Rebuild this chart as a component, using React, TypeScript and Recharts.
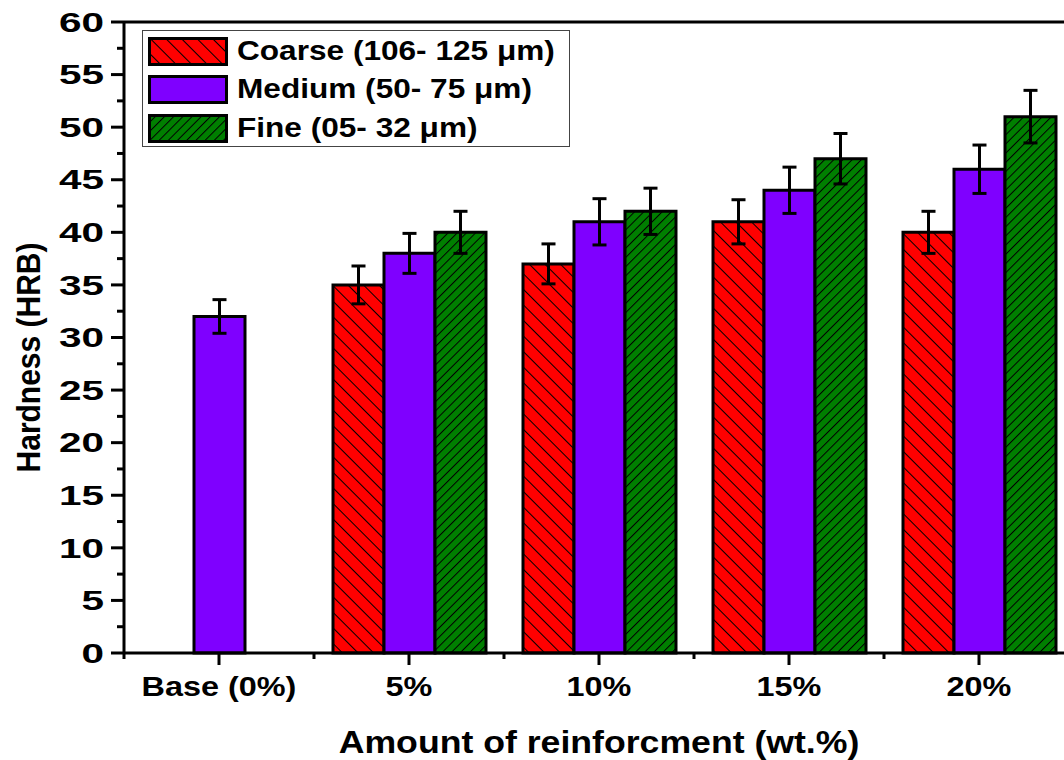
import { BarChart, Bar, XAxis, YAxis, ErrorBar, Legend, ReferenceLine } from 'recharts';

const categories = ['Base (0%)', '5%', '10%', '15%', '20%'];
const coarse = [null, 35, 37, 41, 40];
const coarseErr = [null, 1.8, 1.9, 2.1, 2.0];
const medium = [32, 38, 41, 44, 46];
const mediumErr = [1.6, 1.9, 2.2, 2.2, 2.3];
const fine = [null, 40, 42, 47, 51];
const fineErr = [null, 2.0, 2.2, 2.4, 2.5];
const yTicks = [0, 2.5, 5, 7.5, 10, 12.5, 15, 17.5, 20, 22.5, 25, 27.5, 30, 32.5, 35, 37.5, 40, 42.5, 45, 47.5, 50, 52.5, 55, 57.5, 60];

const series = [
  { key: 'coarse', err: 'coarseErr', name: 'Coarse (106- 125 μm)', color: '#ff0000', hatch: -45, gap: 11 },
  { key: 'medium', err: 'mediumErr', name: 'Medium (50- 75 μm)', color: '#7f00ff', hatch: 0, gap: 0 },
  { key: 'fine', err: 'fineErr', name: 'Fine (05- 32 μm)', color: '#007f00', hatch: 45, gap: 6.5 },
];

const data = categories.map((name, i) => ({
  name,
  coarse: coarse[i],
  coarseErr: coarseErr[i],
  medium: medium[i],
  mediumErr: mediumErr[i],
  fine: fine[i],
  fineErr: fineErr[i],
}));

const FONT = '"Liberation Sans", Arial, sans-serif';
const SX = 1.2; // glyphs are drawn a bit wide
const SX_Y = 1.5; // y tick numbers are wider still
const CHART_W = 1080;
const CHART_H = 760;
const Y_AXIS_W = 124;
const MARGIN = { top: 22, right: 6, left: 0, bottom: 0 };
const X_AXIS_H = 107;
const PLOT_W = CHART_W - MARGIN.left - MARGIN.right - Y_AXIS_W;
const BAND = PLOT_W / categories.length;

const fillFor = (s: typeof series[number], prefix: string) =>
  s.hatch === 0 ? s.color : `url(#${prefix}-${s.key})`;

const HatchDefs = ({ prefix }: { prefix: string }) => (
  <defs>
    {series.filter((s) => s.hatch !== 0).map((s) => (
      <pattern key={s.key} id={`${prefix}-${s.key}`} patternUnits="userSpaceOnUse"
        width={s.gap} height={s.gap} patternTransform={`rotate(${s.hatch})`}>
        <rect width={s.gap} height={s.gap} fill={s.color} />
        <line x1={0} y1={0} x2={0} y2={s.gap} stroke="#000" strokeWidth={2} />
      </pattern>
    ))}
  </defs>
);

const YTick = (props: any) => {
  const { x, y, payload } = props;
  const major = payload.value % 5 === 0;
  return (
    <g>
      <line x1={x - (major ? 13 : 7)} y1={y} x2={x} y2={y} stroke="#000" strokeWidth={3} />
      {major && (
        <text transform={`translate(${x - 20},${y}) scale(${SX_Y},1)`} textAnchor="end" dy="0.36em"
          fontFamily={FONT} fontWeight="bold" fontSize={27} fill="#000">
          {payload.value}
        </text>
      )}
    </g>
  );
};

const XTick = (props: any) => {
  const { x, y, payload, index } = props;
  return (
    <g>
      <line x1={x} y1={y} x2={x} y2={y + 12} stroke="#000" strokeWidth={3} />
      <line x1={x - BAND / 2} y1={y} x2={x - BAND / 2} y2={y + 6} stroke="#000" strokeWidth={3} />
      {index === categories.length - 1 && (
        <line x1={x + BAND / 2} y1={y} x2={x + BAND / 2} y2={y + 6} stroke="#000" strokeWidth={3} />
      )}
      <text transform={`translate(${x},${y + 43}) scale(${SX},1)`} textAnchor="middle"
        fontFamily={FONT} fontWeight="bold" fontSize={27} fill="#000">
        {payload.value}
      </text>
    </g>
  );
};

const renderLegend = () => (
  <div style={{
    border: '1px solid #444', background: '#fff', width: 428, height: 117,
    boxSizing: 'border-box', padding: '1px 0 0 5px', fontFamily: FONT,
  }}>
    {series.map((s) => (
      <div key={s.key} style={{ display: 'flex', alignItems: 'center', height: 38.5 }}>
        <svg width={80} height={29} style={{ display: 'block' }}>
          <HatchDefs prefix="lg" />
          <rect x={1.5} y={1.5} width={77} height={26} fill={fillFor(s, 'lg')} stroke="#000" strokeWidth={3} />
        </svg>
        <span style={{
          display: 'inline-block', marginLeft: 9, fontSize: 27, fontWeight: 'bold', color: '#000',
          transform: 'scaleX(1.17)', transformOrigin: 'left center', whiteSpace: 'nowrap',
        }}>
          {s.name}
        </span>
      </div>
    ))}
  </div>
);

export default function App() {
  return (
    <div style={{ position: 'absolute', left: 0, top: 0, width: 1064, height: 760, overflow: 'hidden', background: '#fff' }}>
      <BarChart width={CHART_W} height={CHART_H} data={data} margin={MARGIN} barGap={0} barCategoryGap="10%">
        <HatchDefs prefix="bar" />
        <XAxis dataKey="name" height={X_AXIS_H} interval={0} tickSize={0} tickMargin={0} tickLine={false}
          axisLine={{ stroke: '#000', strokeWidth: 3 }} tick={<XTick />}
          label={({ viewBox }: any) => (
            <text transform={`translate(${viewBox.x + viewBox.width / 2},${viewBox.y + 100}) scale(1.15,1)`}
              textAnchor="middle" fontFamily={FONT} fontWeight="bold" fontSize={31} fill="#000">
              Amount of reinforcment (wt.%)
            </text>
          )} />
        <YAxis width={Y_AXIS_W} domain={[0, 60]} ticks={yTicks} interval={0} tickSize={0} tickMargin={0}
          tickLine={false} axisLine={{ stroke: '#000', strokeWidth: 3 }} tick={<YTick />}
          label={({ viewBox }: any) => (
            <text transform={`translate(28,${viewBox.y + viewBox.height / 2 + 20}) rotate(-90) scale(1,1.1)`}
              textAnchor="middle" dy="0.36em" fontFamily={FONT} fontWeight="bold" fontSize={30} fill="#000">
              Hardness (HRB)
            </text>
          )} />
        <ReferenceLine y={60} stroke="#000" strokeWidth={3} />
        <Legend verticalAlign="middle" align="center" layout="horizontal" content={renderLegend}
          wrapperStyle={{ top: 30, left: 142, bottom: 'auto', width: 'auto' }} />
        {series.map((s) => (
          <Bar key={s.key} dataKey={s.key} name={s.name} fill={fillFor(s, 'bar')} stroke="#000" strokeWidth={3}
            isAnimationActive={false}>
            <ErrorBar dataKey={s.err} width={7} stroke="#000" strokeWidth={3} />
          </Bar>
        ))}
      </BarChart>
    </div>
  );
}
